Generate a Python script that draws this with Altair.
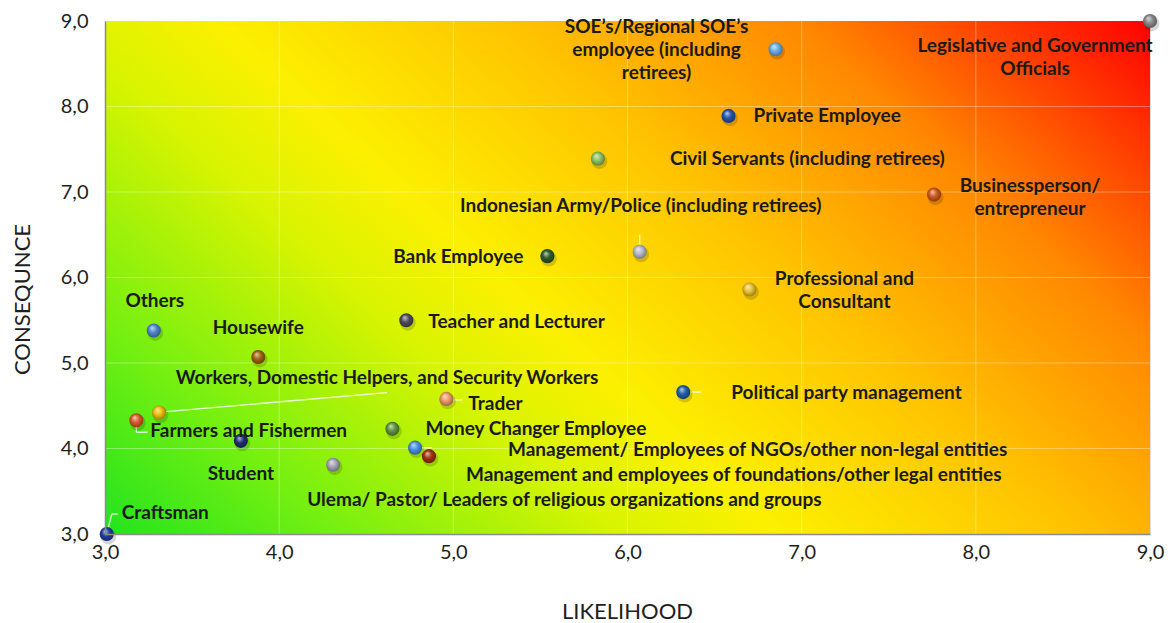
import altair as alt
import pandas as pd

# ---------------- data ----------------
categories = [
    "Legislative and Government Officials",
    "SOE's/Regional SOE's employee (including retirees)",
    "Private Employee",
    "Civil Servants (including retirees)",
    "Businessperson/ entrepreneur",
    "Indonesian Army/Police (including retirees)",
    "Bank Employee",
    "Professional and Consultant",
    "Others",
    "Teacher and Lecturer",
    "Housewife",
    "Political party management",
    "Trader",
    "Workers, Domestic Helpers, and Security Workers",
    "Farmers and Fishermen",
    "Money Changer Employee",
    "Student",
    "Management/ Employees of NGOs/other non-legal entities",
    "Management and employees of foundations/other legal entities",
    "Ulema/ Pastor/ Leaders of religious organizations and groups",
    "Craftsman",
]
likelihood = [9.00, 6.85, 6.58, 5.83, 7.76, 6.07, 5.54, 6.70, 3.28, 4.73, 3.88,
              6.32, 4.96, 3.31, 3.18, 4.65, 3.78, 4.78, 4.86, 4.31, 3.01]
consequence = [9.00, 8.67, 7.89, 7.39, 6.97, 6.30, 6.25, 5.86, 5.38, 5.50, 5.07,
               4.66, 4.58, 4.42, 4.33, 4.23, 4.09, 4.01, 3.91, 3.81, 3.00]
label_text = [
    "Legislative and Government\nOfficials",
    "SOE\u2019s/Regional SOE\u2019s\nemployee (including\nretirees)",
    "Private Employee",
    "Civil Servants (including retirees)",
    "Businessperson/\nentrepreneur",
    "Indonesian Army/Police (including retirees)",
    "Bank Employee",
    "Professional and\nConsultant",
    "Others",
    "Teacher and Lecturer",
    "Housewife",
    "Political party management",
    "Trader",
    "Workers, Domestic Helpers, and Security Workers",
    "Farmers and Fishermen",
    "Money Changer Employee",
    "Student",
    "Management/ Employees of NGOs/other non-legal entities",
    "Management and employees of foundations/other legal entities",
    "Ulema/ Pastor/ Leaders of religious organizations and groups",
    "Craftsman",
]
x_ticks = [3, 4, 5, 6, 7, 8, 9]
y_ticks = [3, 4, 5, 6, 7, 8, 9]

# ---------------- styles ----------------
point_colors = ["#8a8a8a", "#6aaee8", "#2455b0", "#8cc463", "#d05a1c", "#b9b9cf",
                "#2d5a2d", "#e8c234", "#4f86cf", "#4c4a5c", "#a0640f", "#1f5ea8",
                "#f09a6a", "#f2c010", "#e0582a", "#5f9440", "#1e2d78", "#4a92e2",
                "#a3300f", "#a4a4b4", "#2040a0"]
# label offsets (pixels, first text line) relative to the point, and alignment
label_dx = [-115, -119, 25, 72, 96, 1, -24, 95, 1, 22, 0, 48, 22, 228, 14, 33, 0, 93, 37, -26, 15]
label_dy = [25, -22, 0, 0, -9, -46, 1, -10, -30, 2, -29, 1, 5, -35, 11, 0, 33, 2, 19, 35, -21]
label_align = ["center", "center", "left", "left", "center", "center", "right", "center",
               "center", "left", "center", "left", "left", "center", "left", "left",
               "center", "left", "left", "left", "left"]
# leader lines: (category index, start dx, start dy, end dx, end dy)
leaders = [
    (13, 7, -1, 228, -20),
    (14, 0, 7, 0, 12), (14, 0, 12, 11, 12),
    (20, 1, -4, 5, -20), (20, 5, -20, 11, -20),
    (12, 7, 1, 16, 1),
    (11, 7, 0, 18, 0),
    (17, 7, 0, 17, 0),
    (5, 0, -7, 0, -17),
]

W, H = 1045, 513
FONT = "Lato"

df = pd.DataFrame({
    "category": categories,
    "likelihood": likelihood,
    "consequence": consequence,
    "label": label_text,
})

xs = alt.Scale(domain=[3, 9], nice=False, zero=False)
ys = alt.Scale(domain=[3, 9], nice=False, zero=False)
fmt = "replace(format(datum.value, '.1f'), '.', ',')"

x_axis = alt.Axis(values=x_ticks, labelExpr=fmt, grid=False, ticks=False,
                  labelFlush=False, labelOverlap=False,
                  domainColor="#8c8c8c", domainWidth=1.5, labelPadding=8,
                  labelFont=FONT, labelFontSize=20, labelColor="#1e1e1e",
                  title="LIKELIHOOD", titleFont=FONT, titleFontSize=22,
                  titleFontWeight="normal", titleColor="#1e1e1e",
                  titleX=522, titleY=77, titleBaseline="middle", zindex=1)
y_axis = alt.Axis(values=y_ticks, labelExpr=fmt, grid=False, ticks=False,
                  labelFlush=False, labelOverlap=False,
                  domainColor="#8c8c8c", domainWidth=1.5, labelPadding=17,
                  labelFont=FONT, labelFontSize=20, labelColor="#1e1e1e",
                  title="CONSEQUNCE", titleFont=FONT, titleFontSize=22,
                  titleFontWeight="normal", titleColor="#1e1e1e",
                  titleX=-83, titleY=278, titleBaseline="middle", titleAlign="center",
                  zindex=1)

bg_grad = alt.LinearGradient(
    gradient="linear",
    stops=[
        alt.GradientStop(color="#22e41e", offset=0.0),
        alt.GradientStop(color="#78f010", offset=0.15),
        alt.GradientStop(color="#d8f400", offset=0.32),
        alt.GradientStop(color="#fcf000", offset=0.42),
        alt.GradientStop(color="#ffc400", offset=0.6),
        alt.GradientStop(color="#ff8800", offset=0.78),
        alt.GradientStop(color="#ff0000", offset=1.0),
    ],
    x1=0, y1=1, x2=1.193, y2=0.358,
)

background = alt.Chart(df).mark_rect(fill=bg_grad).encode(
    x=alt.value(0), x2=alt.value(W), y=alt.value(0), y2=alt.value(H)
)

base = alt.Chart(df)

grid_x = alt.Chart(pd.DataFrame({"t": x_ticks[1:-1]})).mark_rule(
    color="white", opacity=0.35, strokeWidth=1
).encode(x=alt.X("t:Q", scale=xs, axis=x_axis))
grid_y = alt.Chart(pd.DataFrame({"t": y_ticks[1:-1]})).mark_rule(
    color="white", opacity=0.35, strokeWidth=1
).encode(y=alt.Y("t:Q", scale=ys, axis=y_axis))

layers = [background, grid_x, grid_y]

for (i, sx, sy, ex, ey) in leaders:
    layers.append(
        base.transform_filter(alt.datum.category == categories[i]).mark_rule(
            color="white", opacity=0.85, strokeWidth=1.3,
            xOffset=sx, yOffset=sy, x2Offset=ex, y2Offset=ey,
        ).encode(
            x=alt.X("likelihood:Q", scale=xs, axis=x_axis),
            x2="likelihood:Q",
            y=alt.Y("consequence:Q", scale=ys, axis=y_axis),
            y2="consequence:Q",
        )
    )


def mix(hexc, other, t):
    a = [int(hexc[k:k + 2], 16) for k in (1, 3, 5)]
    b = [int(other[k:k + 2], 16) for k in (1, 3, 5)]
    c = [round(a[j] * (1 - t) + b[j] * t) for j in range(3)]
    return "#%02x%02x%02x" % tuple(c)


for i, cat in enumerate(categories):
    c = point_colors[i]
    grad = alt.RadialGradient(
        gradient="radial",
        stops=[
            alt.GradientStop(color=mix(c, "#ffffff", 0.7), offset=0.0),
            alt.GradientStop(color=c, offset=0.45),
            alt.GradientStop(color=mix(c, "#000000", 0.45), offset=1.0),
        ],
        x1=0.38, y1=0.3, r1=0.0, x2=0.5, y2=0.5, r2=0.6,
    )
    sub = base.transform_filter(alt.datum.category == cat)
    # soft shadow
    layers.append(
        sub.mark_circle(size=250, color="#000000", opacity=0.16, xOffset=1.5, yOffset=2.5).encode(
            x=alt.X("likelihood:Q", scale=xs, axis=x_axis),
            y=alt.Y("consequence:Q", scale=ys, axis=y_axis),
        )
    )
    layers.append(
        sub.mark_circle(size=200, fill=grad, opacity=1).encode(
            x=alt.X("likelihood:Q", scale=xs, axis=x_axis),
            y=alt.Y("consequence:Q", scale=ys, axis=y_axis),
            tooltip=["category:N", "likelihood:Q", "consequence:Q"],
        )
    )

for i, cat in enumerate(categories):
    layers.append(
        base.transform_filter(alt.datum.category == cat).mark_text(
            font=FONT, fontSize=19, fontWeight="bold", color="#1a1a1a",
            align=label_align[i], baseline="middle", dx=label_dx[i], dy=label_dy[i],
            lineBreak="\n", lineHeight=23,
        ).encode(
            x=alt.X("likelihood:Q", scale=xs, axis=x_axis),
            y=alt.Y("consequence:Q", scale=ys, axis=y_axis),
            text="label:N",
        )
    )

chart = alt.layer(*layers).properties(
    width=W, height=H,
    autosize=alt.AutoSizeParams(type="none"),
    padding={"left": 97, "top": 13, "right": 15, "bottom": 92},
).configure_view(stroke=None).configure(background="white")

chart.save("out.html", embed_options={"renderer": "svg", "actions": False})
